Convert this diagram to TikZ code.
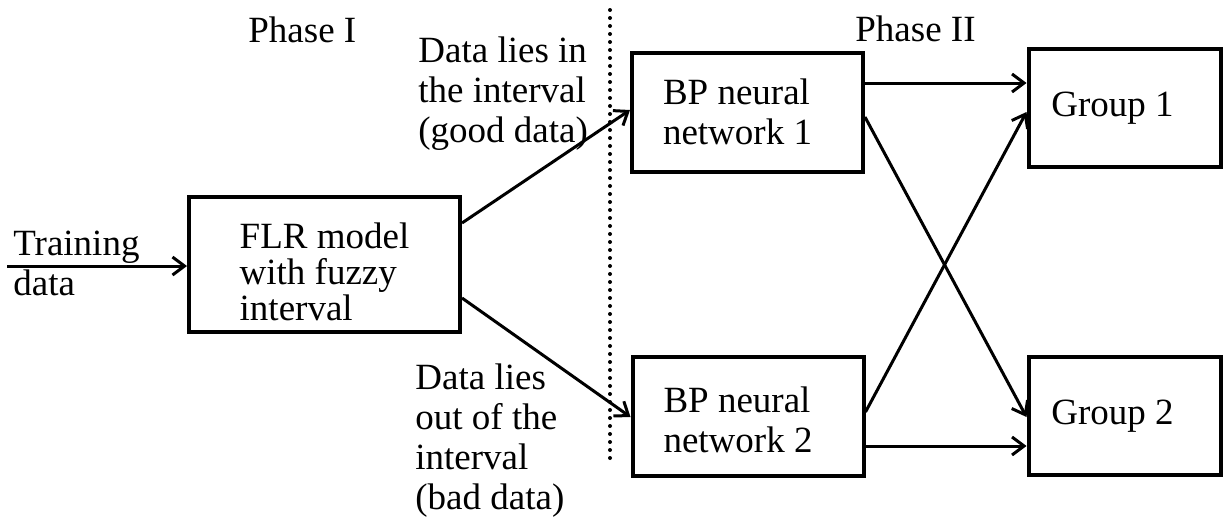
\documentclass[tikz,border=0pt]{standalone}
\usepackage{fontspec}
\setmainfont{Liberation Serif}
\usetikzlibrary{arrows.meta}
\begin{document}
\begin{tikzpicture}[x=0.5pt,y=-0.5pt,
  box/.style={draw, line width=2pt, align=left, inner sep=0pt,
    font=\fontsize{18.5}{20}\selectfont},
  flrbox/.style={box, minimum width=135.5pt, minimum height=67.5pt,
    font=\fontsize{18.5}{18}\selectfont},
  bpbox/.style={box, minimum width=115.5pt, minimum height=59.5pt},
  grpbox/.style={box, minimum width=96pt, minimum height=59pt},
  lbl/.style={inner sep=0pt, align=left, font=\fontsize{18.5}{20}\selectfont},
  arr/.style={line width=1.5pt, -{Straight Barb[length=6pt,width=9pt,line width=1.5pt]}},
  dotline/.style={line width=2pt, line cap=round, dash pattern=on 0pt off 4pt}
]
\useasboundingbox (0,0) rectangle (1226,525);

% processing blocks (trailing kerns keep the text block left of centre)
\node[flrbox] (flr) at (324.5,264.5) {\rule{0pt}{20pt}FLR model\\with fuzzy\\interval};
\node[bpbox] (bp1) at (747.5,112) {BP neural\kern10pt\\network 1\kern10pt};
\node[bpbox] (bp2) at (748,416.5) {\rule{0pt}{16pt}BP neural\kern10pt\\network 2\kern10pt};
\node[grpbox] (g1) at (1124.5,108) {Group 1\kern12pt};
\node[grpbox] (g2) at (1124.5,416) {Group 2\kern12pt};

% captions (base = baseline of the last line)
\node[lbl, anchor=base west] (p1) at (248,42) {Phase I};
\node[lbl, anchor=base west] (p2) at (855,41) {Phase II};
\node[lbl, anchor=base west] (tr) at (13,295) {Training\\data};
\node[lbl, anchor=base west] (good) at (418,142) {Data lies in\\the interval\\(good data)};
\node[lbl, anchor=base west] (bad) at (415,509) {Data lies\\out of the\\interval\\(bad data)};

% phase separator
\coordinate (dtop) at (610,10);
\coordinate (dbot) at (610,462);
\draw[dotline] (dtop) -- (dbot);

% input
\coordinate (tin) at (7,266);
\draw[arr] (tin) -- (tin -| flr.west);

% phase I split
\draw[arr] (flr.east |- 0,223) -- (bp1.west |- 0,110);
\draw[arr] (flr.east |- 0,298) -- (bp2.west |- 0,417);

% phase II classification
\draw[arr] (bp1.east |- 0,83) -- (g1.west |- 0,83);
\draw[arr] (bp1.east |- 0,117) -- (g2.west |- 0,417);
\draw[arr] (bp2.east |- 0,412) -- (g1.west |- 0,112);
\draw[arr] (bp2.east |- 0,446) -- (g2.west |- 0,446);
\end{tikzpicture}
\end{document}
